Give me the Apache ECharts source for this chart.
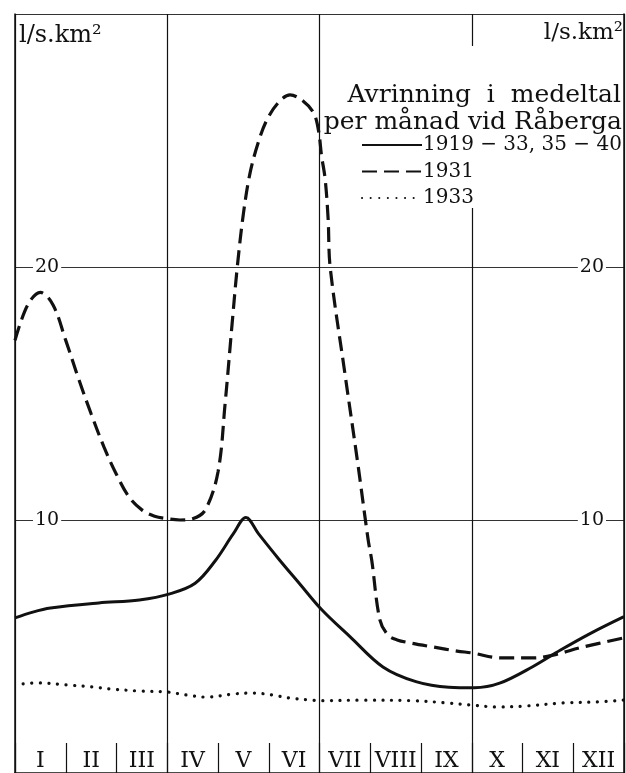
<!DOCTYPE html>
<html><head><meta charset="utf-8">
<script src="https://cdn.jsdelivr.net/npm/echarts@6/dist/echarts.min.js"></script>
<style>html,body{margin:0;padding:0;background:#fff}#c{width:626px;height:773px}</style>
</head><body><div id="c"></div>
<script>
// ---- data ----
const months = ['I','II','III','IV','V','VI','VII','VIII','IX','X','XI','XII'];
const yTickLabels = [10, 20];
const seriesNames = ['1919 − 33, 35 − 40', '1931', '1933'];
const titleLines = ['Avrinning i medeltal', 'per månad vid Råberga'];
const unitLabel = 'l/s.km²';

// mean 1919-33, 35-40 (month position, l/s.km²)
const meanX = [0, 0.35, 0.7, 1.65, 2.45, 3.05, 3.55, 3.95, 4.3, 4.55, 4.8, 5.2, 5.6, 6.05, 6.6, 7.25, 7.9, 8.55, 9.05, 9.55, 10.2, 10.75, 11.35, 12];
const meanY = [6.13, 6.36, 6.52, 6.72, 6.84, 7.08, 7.5, 8.4, 9.45, 10.1, 9.45, 8.45, 7.5, 6.44, 5.39, 4.19, 3.61, 3.39, 3.37, 3.55, 4.2, 4.86, 5.53, 6.18];

// 1931
const y1931X = [0, 0.25, 0.5, 0.75, 1.0, 1.25, 1.5, 1.75, 2.0, 2.25, 2.5, 2.75, 3.0, 3.25, 3.5, 3.75, 4.0, 4.14, 4.28, 4.38, 4.5, 4.63, 4.79, 4.96, 5.19, 5.42, 5.65, 5.88, 5.98, 6.04, 6.11, 6.17, 6.21, 6.5, 6.75, 6.96, 7.03, 7.19, 7.35, 7.53, 7.79, 8.24, 8.71, 9.02, 9.56, 10.2, 10.6, 11.19, 12.0];
const y1931Y = [17.1, 18.5, 19.0, 18.5, 17.1, 15.6, 14.2, 12.9, 11.8, 10.9, 10.4, 10.15, 10.05, 10.0, 10.05, 10.4, 11.9, 14.6, 17.8, 20.0, 22.1, 23.7, 24.9, 25.8, 26.5, 26.8, 26.6, 26.1, 25.4, 24.4, 23.5, 21.9, 20.0, 15.8, 12.3, 9.2, 8.4, 6.05, 5.45, 5.26, 5.14, 4.98, 4.82, 4.74, 4.55, 4.55, 4.66, 4.98, 5.34];

// 1933
const y1933X = [0.16, 0.45, 1.02, 1.54, 1.87, 2.46, 3.0, 3.39, 3.78, 4.3, 4.69, 5.08, 5.42, 5.85, 6.01, 6.86, 7.84, 8.49, 8.97, 9.48, 10.07, 10.8, 11.45, 12.0];
const y1933Y = [3.52, 3.56, 3.48, 3.40, 3.32, 3.24, 3.20, 3.08, 3.00, 3.12, 3.16, 3.08, 2.96, 2.88, 2.86, 2.88, 2.86, 2.77, 2.69, 2.61, 2.65, 2.77, 2.81, 2.88];

// ---- chart ----
const FONT = 'DejaVu Serif';
const INK = '#111';
const zip = (xs, ys) => xs.map((x, i) => [x, ys[i]]);

const chart = echarts.init(document.getElementById('c'), null, {renderer: 'canvas'});
const yLabel = {
  inside: true, margin: 18, fontFamily: FONT, fontSize: 19, color: INK,
  backgroundColor: '#fff', padding: [0, 2], showMinLabel: false, showMaxLabel: false,
  formatter: v => yTickLabels.includes(v) ? String(v) : ''
};
const lineSeries = (name, xs, ys, lineStyle) => ({
  name, type: 'line', xAxisIndex: 2, yAxisIndex: 0, data: zip(xs, ys),
  showSymbol: false, symbol: 'none', smooth: 0.35,
  lineStyle: Object.assign({color: INK}, lineStyle), itemStyle: {color: INK}
});
chart.setOption({
  animation: false,
  backgroundColor: '#fff',
  grid: {left: 15, right: 2, top: 14, bottom: 0, containLabel: false},
  xAxis: [
    { type: 'category', data: months, position: 'bottom', boundaryGap: true,
      axisLine: {show: false},
      axisTick: {show: true, inside: true, length: 30, lineStyle: {color: INK, width: 1.2}},
      axisLabel: {inside: true, margin: 1, interval: 0, fontFamily: FONT, fontSize: 22, color: INK, verticalAlign: 'bottom'},
      splitLine: {show: false} },
    { type: 'category', data: months, position: 'top', boundaryGap: true,
      axisLine: {show: true, lineStyle: {color: INK, width: 1.5}},
      axisTick: {show: true, inside: true, length: 30, lineStyle: {color: INK, width: 1.2}},
      axisLabel: {show: false}, splitLine: {show: false} },
    { type: 'value', min: 0, max: 12, interval: 3, position: 'bottom',
      axisLine: {show: false}, axisTick: {show: false}, axisLabel: {show: false},
      splitLine: {show: true, lineStyle: {color: INK, width: 1.2}} }
  ],
  yAxis: [
    { type: 'value', min: 0, max: 30, interval: 10, position: 'left',
      axisLine: {show: true, lineStyle: {color: INK, width: 1.5}}, axisTick: {show: false},
      axisLabel: {show: false},
      splitLine: {show: true, lineStyle: {color: '#333', width: 1}} },
    { type: 'value', min: 0, max: 30, interval: 10, position: 'right', z: 3,
      axisLine: {show: true, lineStyle: {color: INK, width: 1.5}}, axisTick: {show: false},
      axisLabel: yLabel, splitLine: {show: false} },
    { type: 'value', min: 0, max: 30, interval: 10, position: 'left', z: 3,
      axisLine: {show: false}, axisTick: {show: false},
      axisLabel: yLabel, splitLine: {show: false} }
  ],
  legend: {
    orient: 'vertical', left: 356, top: 130, itemWidth: 60, itemHeight: 14, itemGap: 6.5,
    data: seriesNames, z: 6,
    itemStyle: {color: 'rgba(0,0,0,0)', borderColor: 'rgba(0,0,0,0)', borderWidth: 0, opacity: 0},
    textStyle: {fontFamily: FONT, fontSize: 20, color: INK, lineHeight: 20, padding: [0, 0, 0, -4]}
  },
  graphic: [
    {type: 'rect', shape: {x: 333, y: 46, width: 289, height: 162}, style: {fill: '#fff'}, z: 5, silent: true},
    {type: 'text', x: 621, y: 95, z: 7, style: {text: titleLines[0].replace(/ /g, '  '), font: '25px "' + FONT + '"', fill: INK, align: 'right', verticalAlign: 'middle'}},
    {type: 'text', x: 622, y: 122, z: 7, style: {text: titleLines[1], font: '25px "' + FONT + '"', fill: INK, align: 'right', verticalAlign: 'middle'}},
    {type: 'text', x: 19, y: 36, z: 7, style: {text: unitLabel, font: '24px "' + FONT + '"', fill: INK, align: 'left', verticalAlign: 'middle', backgroundColor: '#fff'}},
    {type: 'text', x: 623, y: 33, z: 7, style: {text: unitLabel, font: '23px "' + FONT + '"', fill: INK, align: 'right', verticalAlign: 'middle', backgroundColor: '#fff'}}
  ],
  series: [
    lineSeries(seriesNames[0], meanX, meanY, {width: 3}),
    lineSeries(seriesNames[1], y1931X, y1931Y, {width: 3.2, type: [15, 7]}),
    lineSeries(seriesNames[2], y1933X, y1933Y, {width: 3.2, type: [0.1, 8.5], cap: 'round'})
  ]
});
</script>
</body></html>
